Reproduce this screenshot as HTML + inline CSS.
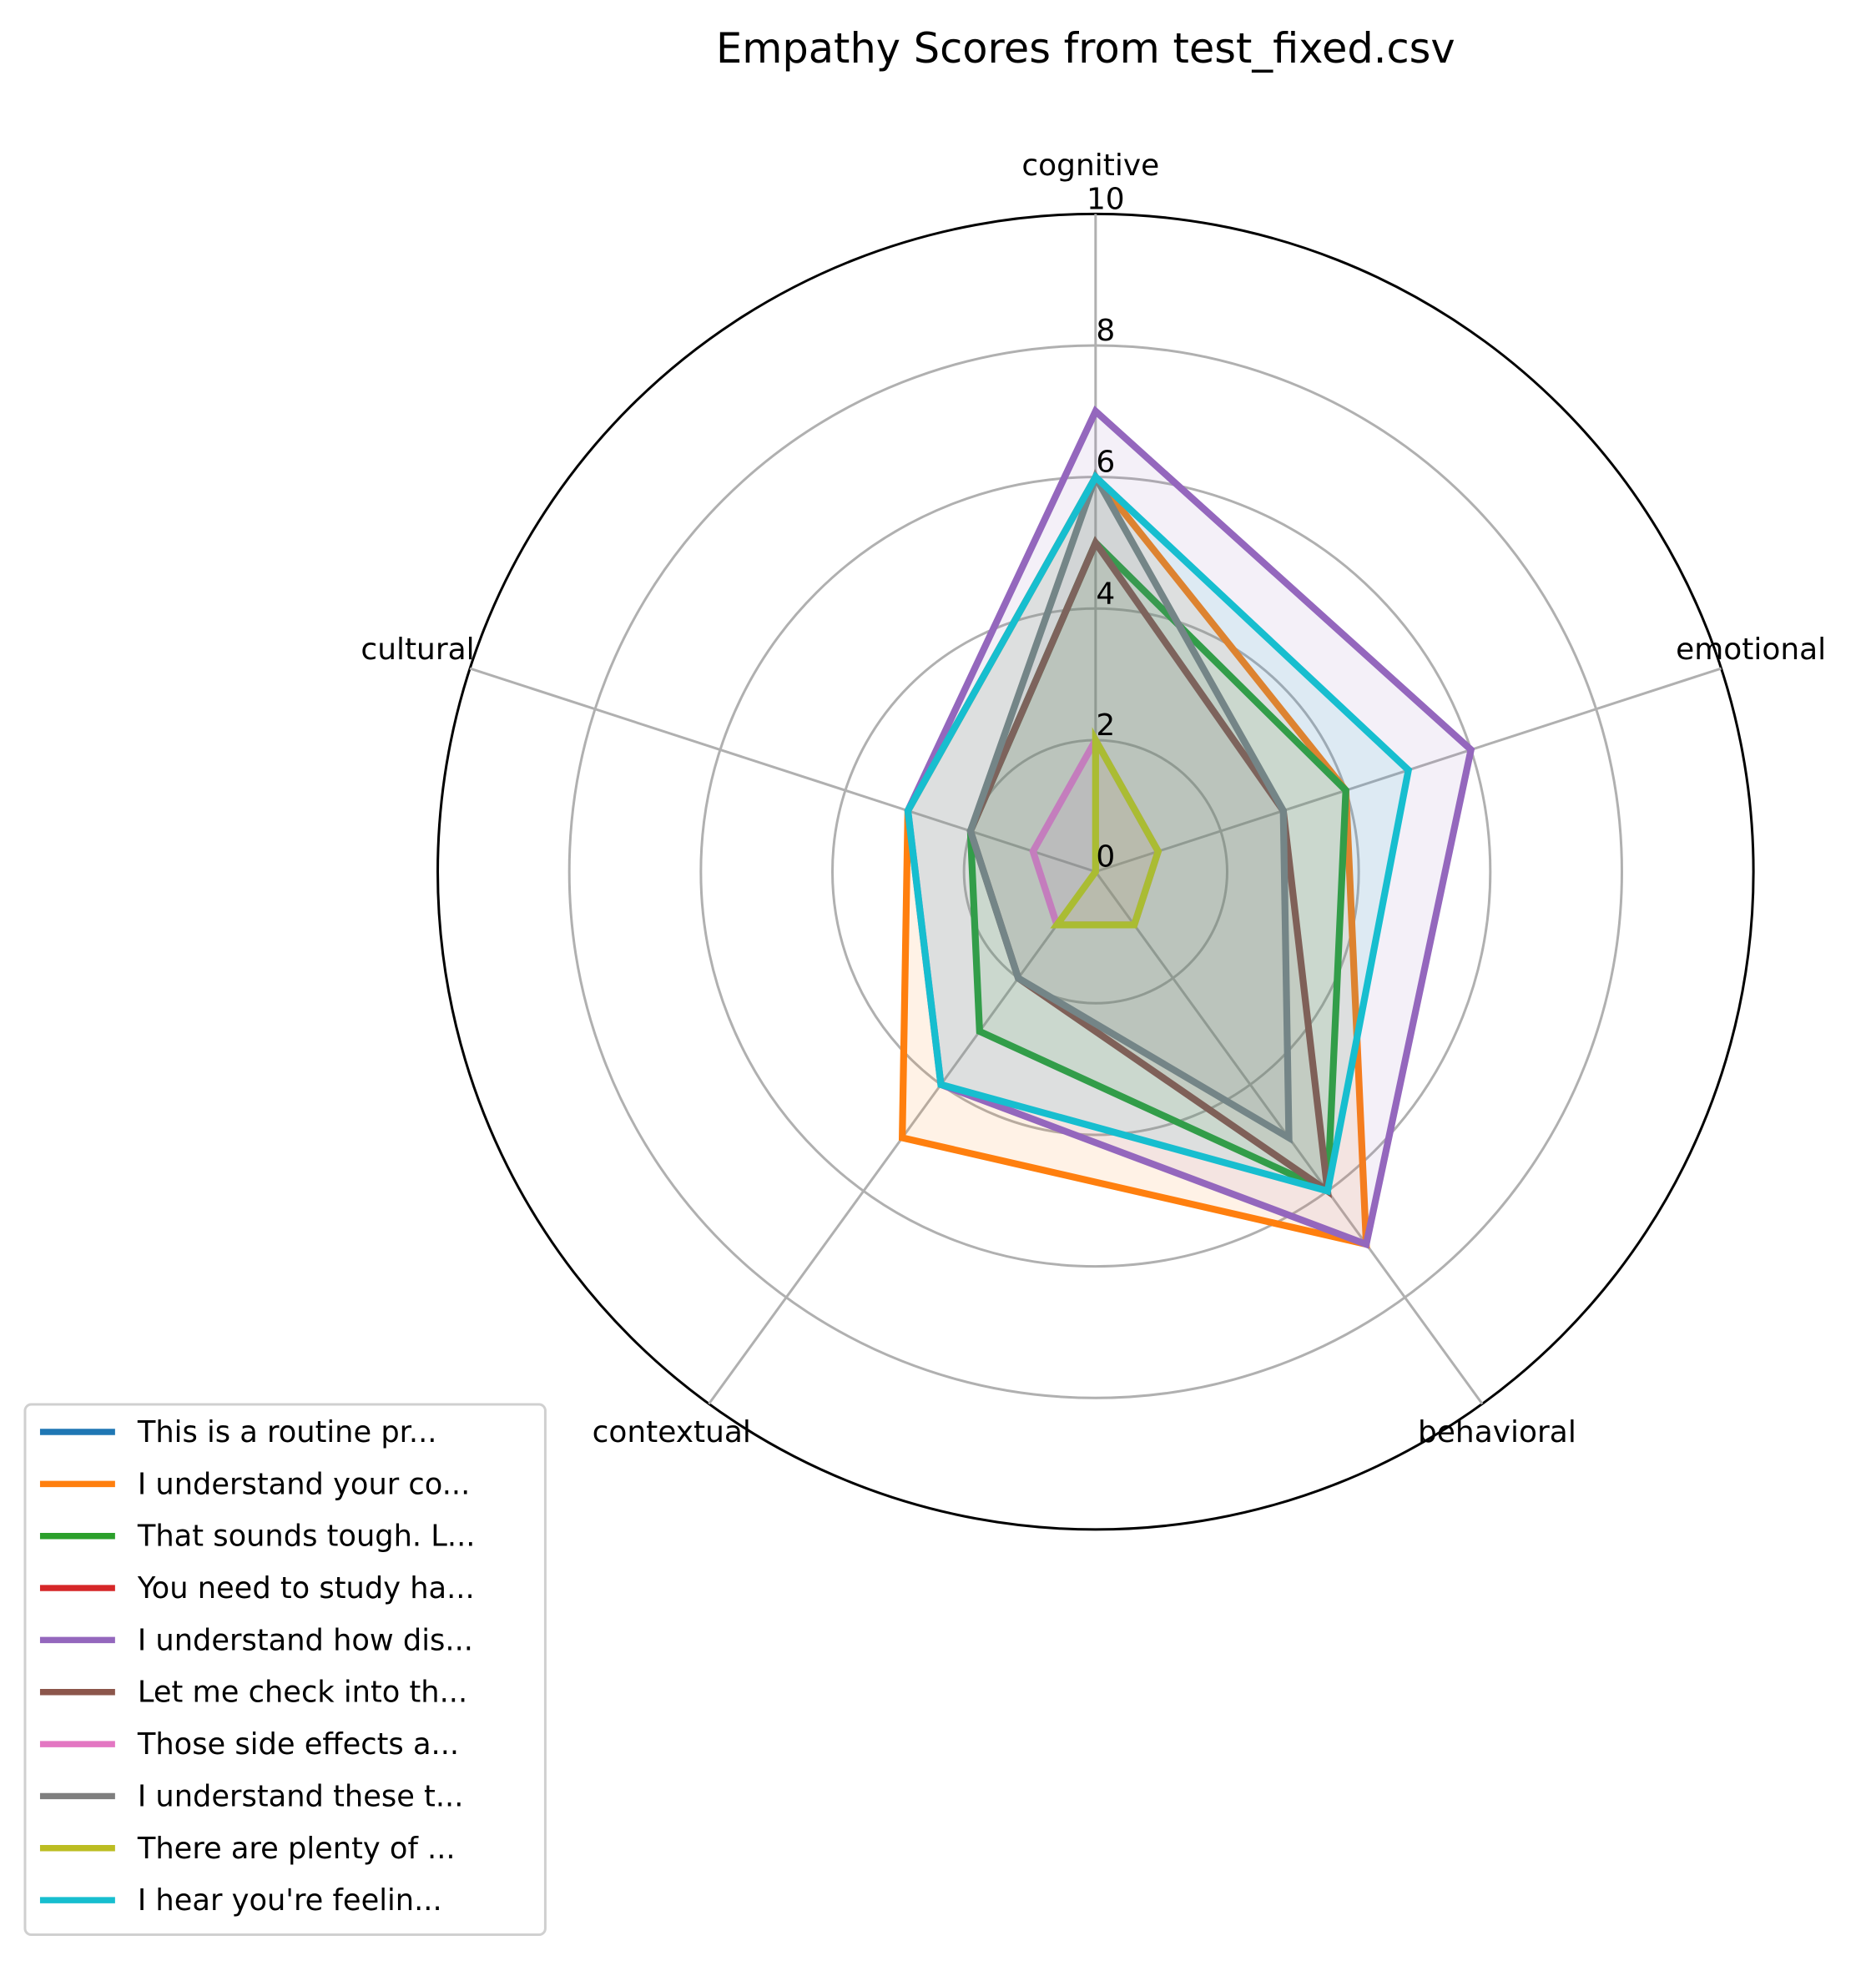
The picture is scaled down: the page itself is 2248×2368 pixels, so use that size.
<!DOCTYPE html>
<html><head><meta charset="utf-8"><style>body{margin:0;background:#fff}svg{display:block;font-family:"DejaVu Sans","Liberation Sans",sans-serif}</style></head>
<body>
<svg id="chart" width="2248" height="2368" viewBox="0 0 1500 1580" xmlns="http://www.w3.org/2000/svg">
<rect width="1500" height="1580" fill="#fff"/>
<text x="868" y="50" font-size="33" text-anchor="middle">Empathy Scores from test_fixed.csv</text>
<g id="grid"></g><g id="series"></g><g id="labels"></g><g id="legend"></g>
</svg>
<script>
const axesNames=["cognitive","emotional","behavioral","contextual","cultural"];
const tickValues=[0,2,4,6,8,10];
const seriesNames=["This is a routine pr...","I understand your co...","That sounds tough. L...","You need to study ha...","I understand how dis...","Let me check into th...","Those side effects a...","I understand these t...","There are plenty of ...","I hear you're feelin..."];
const colors=["#1f77b4","#ff7f0e","#2ca02c","#d62728","#9467bd","#8c564b","#e377c2","#7f7f7f","#bcbd22","#17becf"];
const s0=[0,0,0,0,0];
const s1=[6,4,7,5,3];
const s2=[5,4,6,3,2];
const s3=[0,0,0,0,0];
const s4=[7,6,7,4,3];
const s5=[5,3,6,2,2];
const s6=[2,1,1,1,1];
const s7=[6,3,5,2,2];
const s8=[2,1,1,1,0];
const s9=[6,5,6,4,3];
const seriesValues=[s0,s1,s2,s3,s4,s5,s6,s7,s8,s9];
const NS="http://www.w3.org/2000/svg";
const cx=876,cy=697,U=52.6,RMAX=10;
function ang(i){return Math.PI/2-i*2*Math.PI/axesNames.length;}
function pt(i,v){const a=ang(i);return [cx+Math.cos(a)*v*U, cy-Math.sin(a)*v*U];}
function mk(t,at,p){const e=document.createElementNS(NS,t);for(const k in at)e.setAttribute(k,at[k]);p.appendChild(e);return e;}
const grid=document.getElementById('grid');
tickValues.forEach(t=>{if(t===0)return;const c=mk('circle',{cx:cx,cy:cy,r:t*U,fill:'none',stroke:t===RMAX?'#000':'#b0b0b0','stroke-width':2},grid);

});
axesNames.forEach((n,i)=>{const p=pt(i,RMAX);const l=mk('line',{x1:cx,y1:cy,x2:p[0],y2:p[1],stroke:'#b0b0b0','stroke-width':2},grid);

});
const sg=document.getElementById('series');
seriesValues.forEach((vals,k)=>{const pts=vals.map((v,i)=>pt(i,v).join(',')).join(' ');
const f=mk('polygon',{points:pts,fill:colors[k],'fill-opacity':0.1,stroke:'none'},sg);


const l=mk('polygon',{points:pts,fill:'none',stroke:colors[k],'stroke-width':5.5,'stroke-linejoin':'miter'},sg);

});
const lg=document.getElementById('labels');
tickValues.forEach(t=>{const e=mk('text',{x:cx+8,y:cy-t*U-4,'font-size':24,'text-anchor':'middle'},lg);e.textContent=t;

});
const lpos=[[872,140],[1400,527],[1197,1153],[537,1153],[334,527]];
axesNames.forEach((n,i)=>{const e=mk('text',{x:lpos[i][0],y:lpos[i][1],'font-size':24,'text-anchor':'middle'},lg);e.textContent=n;

});
const leg=document.getElementById('legend');
const box=mk('rect',{x:20,y:1123,width:416,height:424,rx:5,fill:'#fff',stroke:'#d0d0d0','stroke-width':2},leg);


seriesNames.forEach((n,k)=>{const y=1145+k*41.6;
const l=mk('line',{x1:32,y1:y,x2:92,y2:y,stroke:colors[k],'stroke-width':5},leg);


const t=mk('text',{x:110,y:y+8,'font-size':23.5},leg);t.textContent=n;

});
</script>
</body></html>
